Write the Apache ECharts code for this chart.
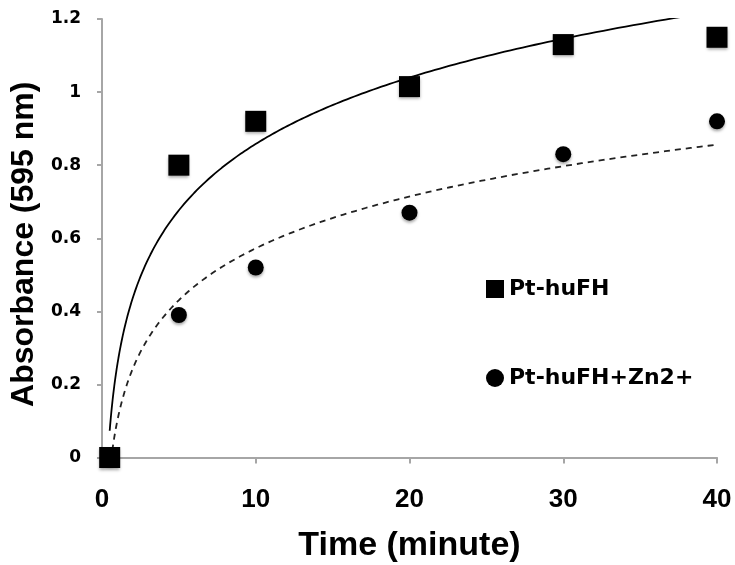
<!DOCTYPE html>
<html>
<head>
<meta charset="utf-8">
<title>Absorbance vs time</title>
<script src="https://cdn.jsdelivr.net/npm/echarts@6/dist/echarts.min.js"></script>
<style>
  html, body { margin: 0; padding: 0; background: #fff; }
  #chart { width: 735px; height: 565px; }
</style>
</head>
<body>
<div id="chart"></div>
<script>
// Measured absorbance at 595 nm over time (minutes)
const timePoints = [0.5, 5, 10, 20, 30, 40];
const ptHuFH = [0, 0.80, 0.92, 1.015, 1.13, 1.15];
const ptHuFHZn = [0, 0.39, 0.52, 0.67, 0.83, 0.92];
const seriesNames = ['Pt-huFH', 'Pt-huFH+Zn2+'];
const yTicks = [0, 0.2, 0.4, 0.6, 0.8, 1, 1.2];
const xTicks = [0, 10, 20, 30, 40];

// Logarithmic least-squares trendline y = a*ln(x) + b, fitted to the measurements
function logTrend(xs, ys) {
  const lx = xs.map(Math.log);
  const n = xs.length;
  const mx = lx.reduce((s, v) => s + v, 0) / n;
  const my = ys.reduce((s, v) => s + v, 0) / n;
  let sxy = 0, sxx = 0;
  for (let i = 0; i < n; i++) {
    sxy += (lx[i] - mx) * (ys[i] - my);
    sxx += (lx[i] - mx) * (lx[i] - mx);
  }
  const a = sxy / sxx;
  const b = my - a * mx;
  const x0 = Math.min(...xs), x1 = Math.max(...xs);
  const pts = [];
  const steps = 300;
  for (let k = 0; k <= steps; k++) {
    const x = x0 * Math.pow(x1 / x0, k / steps);
    pts.push([x, a * Math.log(x) + b]);
  }
  return pts;
}

const pairs = (xs, ys) => xs.map((x, i) => [x, ys[i]]);

const chart = echarts.init(document.getElementById('chart'), null, { renderer: 'canvas' });

const markerStyle = {
  color: '#000',
  opacity: 1,
  shadowBlur: 3,
  shadowOffsetX: 0,
  shadowOffsetY: 2,
  shadowColor: 'rgba(0,0,0,0.35)'
};

chart.setOption({
  animation: false,
  backgroundColor: '#ffffff',
  grid: {
    left: 102, right: 18, top: 19, bottom: 107.5,
    containLabel: false,
    outerBoundsMode: 'none'
  },
  legend: {
    orient: 'vertical',
    left: 481,
    top: 273,
    itemGap: 67,
    itemWidth: 18,
    itemHeight: 18,
    data: seriesNames,
    textStyle: {
      fontFamily: 'DejaVu Sans',
      fontWeight: 'bold',
      fontSize: 22,
      color: '#000'
    },
    itemStyle: { color: '#000', opacity: 1, shadowBlur: 0, shadowOffsetY: 0 }
  },
  xAxis: {
    type: 'value',
    min: xTicks[0],
    max: xTicks[xTicks.length - 1],
    interval: 10,
    name: 'Time (minute)',
    nameLocation: 'middle',
    nameGap: 71,
    nameTextStyle: {
      fontFamily: 'Liberation Sans',
      fontWeight: 'bold',
      fontSize: 34,
      color: '#000'
    },
    axisLine: { show: true, onZero: false, lineStyle: { color: '#a6a6a6', width: 2 } },
    axisTick: { show: true, inside: false, length: 6, lineStyle: { color: '#a6a6a6', width: 2 } },
    axisLabel: {
      margin: 29,
      fontFamily: 'Liberation Sans',
      fontWeight: 'bold',
      fontSize: 26,
      color: '#000'
    },
    splitLine: { show: false }
  },
  yAxis: {
    type: 'value',
    min: yTicks[0],
    max: yTicks[yTicks.length - 1],
    interval: 0.2,
    name: 'Absorbance (595 nm)',
    nameLocation: 'middle',
    nameGap: 52,
    nameTextStyle: {
      fontFamily: 'Liberation Sans',
      fontWeight: 'bold',
      fontSize: 32,
      color: '#000',
      padding: [0, 12, 0, 0]
    },
    axisLine: { show: true, onZero: false, lineStyle: { color: '#a6a6a6', width: 2 } },
    axisTick: { show: true, inside: false, length: 5, lineStyle: { color: '#a6a6a6', width: 2 } },
    axisLabel: {
      margin: 21,
      fontFamily: 'DejaVu Sans',
      fontWeight: 'bold',
      fontSize: 17,
      color: '#000',
      formatter: v => String(+v.toFixed(1))
    },
    splitLine: { show: false }
  },
  series: [
    {
      name: 'Log. (' + seriesNames[0] + ')',
      type: 'line',
      data: logTrend(timePoints, ptHuFH),
      showSymbol: false,
      symbol: 'none',
      clip: true,
      z: 2,
      lineStyle: { color: '#000', width: 1.8, type: 'solid' }
    },
    {
      name: 'Log. (' + seriesNames[1] + ')',
      type: 'line',
      data: logTrend(timePoints, ptHuFHZn),
      showSymbol: false,
      symbol: 'none',
      clip: true,
      z: 2,
      lineStyle: { color: '#222', width: 1.8, type: [6, 5] }
    },
    {
      name: seriesNames[1],
      type: 'scatter',
      data: pairs(timePoints, ptHuFHZn),
      symbol: 'circle',
      symbolSize: 16,
      clip: false,
      z: 3,
      itemStyle: markerStyle
    },
    {
      name: seriesNames[0],
      type: 'scatter',
      data: pairs(timePoints, ptHuFH),
      symbol: 'rect',
      symbolSize: 21,
      clip: false,
      z: 4,
      itemStyle: markerStyle
    }
  ]
});
</script>
</body>
</html>
